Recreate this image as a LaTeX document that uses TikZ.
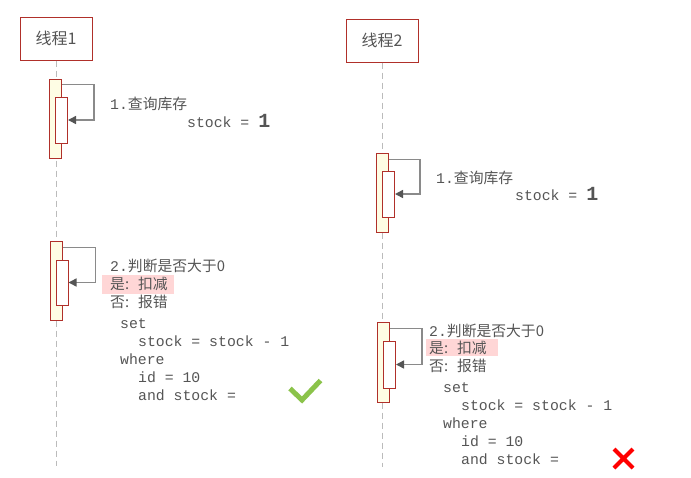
\documentclass[tikz,border=0pt]{standalone}
\usepackage{fontspec}
\setmainfont{Liberation Mono}
\newfontfamily\cjk{Noto Sans CJK SC}
\usetikzlibrary{arrows.meta}
\definecolor{bordred}{HTML}{B0302A}
\definecolor{actfill}{HTML}{FEFDE4}
\definecolor{txtgray}{HTML}{555555}
\definecolor{hlpink}{HTML}{FFD6D6}
\definecolor{lifegray}{HTML}{BBBBBB}
\definecolor{loopgray}{HTML}{8A8A8A}
\definecolor{okgreen}{HTML}{8BC34A}
\tikzset{
  headbox/.style={draw=bordred, line width=1pt, fill=white, minimum width=72pt, minimum height=43pt, inner sep=0pt, text=txtgray, font=\cjk\fontsize{16}{18}\selectfont},
  lifeline/.style={draw=lifegray, dashed, dash pattern=on 6pt off 4pt, line width=0.8pt},
  outeract/.style={draw=bordred, line width=1pt, fill=actfill, minimum width=12pt, inner sep=0pt},
  inneract/.style={draw=bordred, line width=1pt, fill=white, minimum width=12pt, inner sep=0pt},
  selfloop/.style={draw=loopgray, line width=1.5pt, -{Triangle[length=8pt,width=8pt,color=txtgray]}},
  msg/.style={anchor=base west, inner sep=0pt, text=txtgray, font=\fontsize{14.8}{18}\selectfont},
  hl/.style={fill=hlpink, inner sep=0pt},
}
\newcommand{\bigone}{{\fontsize{20}{20}\selectfont\bfseries 1}}
\begin{document}
\begin{tikzpicture}[x=1pt,y=-1pt]
\useasboundingbox[fill=white] (0,0) rectangle (691,477);
% lifelines
\node[headbox] (h1) at (56,38.5) {线程1};
\node[headbox] (h2) at (382,40.5) {线程2};
\coordinate (e1) at (56,466);
\coordinate (e2) at (382,467);
\draw[lifeline] (h1.south) -- (e1);
\draw[lifeline] (h2.south) -- (e2);

% thread 1, step 1
\node[outeract, minimum height=79pt] (a11) at (55.5,118.5) {};
\node[inneract, minimum height=46pt] (i11) at (61.5,120) {};
\draw[selfloop] ([yshift=-6pt]a11.north east) -- ++(32,0) |- (i11.east);
\node[msg] (t11) at (110,109) {1.\cjk{查询库存}};
\node[msg] (t12) at (187,127) {stock = \bigone};

% thread 1, step 2
\node[outeract, minimum height=79pt] (a12) at (56,280.5) {};
\node[inneract, minimum height=45pt] (i12) at (62,282.5) {};
\draw[selfloop] ([yshift=-7pt]a12.north east) -- ++(33,0) |- (i12.east);
\node[hl, minimum width=72pt, minimum height=19pt] (hl1) at (138,284.5) {};
\node[msg] (t13) at (110,271) {2.\cjk{判断是否大于}0};
\node[msg] (t14) at (110,289) {\cjk{是}:\hspace{9pt}\cjk{扣减}};
\node[msg] (t15) at (110,307) {\cjk{否}:\hspace{9pt}\cjk{报错}};
\node[msg] (t16) at (120,328) {set};
\node[msg] (t17) at (138,346) {stock = stock - 1};
\node[msg] (t18) at (120,364) {where};
\node[msg] (t19) at (138,382) {id = 10};
\node[msg] (t1a) at (138,400) {and stock =};
\draw[okgreen, line width=5pt] (290,388.5) -- (302,400) -- (320.5,380.5);

% thread 2, step 1
\node[outeract, minimum height=79pt] (a21) at (382.5,192.5) {};
\node[inneract, minimum height=46pt] (i21) at (388.5,194) {};
\draw[selfloop] ([yshift=-7pt]a21.north east) -- ++(31,0) |- (i21.east);
\node[msg] (t21) at (436,183) {1.\cjk{查询库存}};
\node[msg] (t22) at (515,200) {stock = \bigone};

% thread 2, step 2
\node[outeract, minimum height=80pt] (a22) at (383.5,362) {};
\node[inneract, minimum height=47pt] (i22) at (389.5,364.5) {};
\draw[selfloop] ([yshift=-7pt]a22.north east) -- ++(32,0) |- (i22.east);
\node[hl, minimum width=72pt, minimum height=17pt] (hl2) at (462,347) {};
\node[msg] (t23) at (429,336) {2.\cjk{判断是否大于}0};
\node[msg] (t24) at (429,353) {\cjk{是}:\hspace{9pt}\cjk{扣减}};
\node[msg] (t25) at (429,371) {\cjk{否}:\hspace{9pt}\cjk{报错}};
\node[msg] (t26) at (443,392) {set};
\node[msg] (t27) at (461,410) {stock = stock - 1};
\node[msg] (t28) at (443,428) {where};
\node[msg] (t29) at (461,446) {id = 10};
\node[msg] (t2a) at (461,464) {and stock =};
\draw[red, line width=4pt] (614,449) -- (633,468) (633,449) -- (614,468);
\end{tikzpicture}
\end{document}
